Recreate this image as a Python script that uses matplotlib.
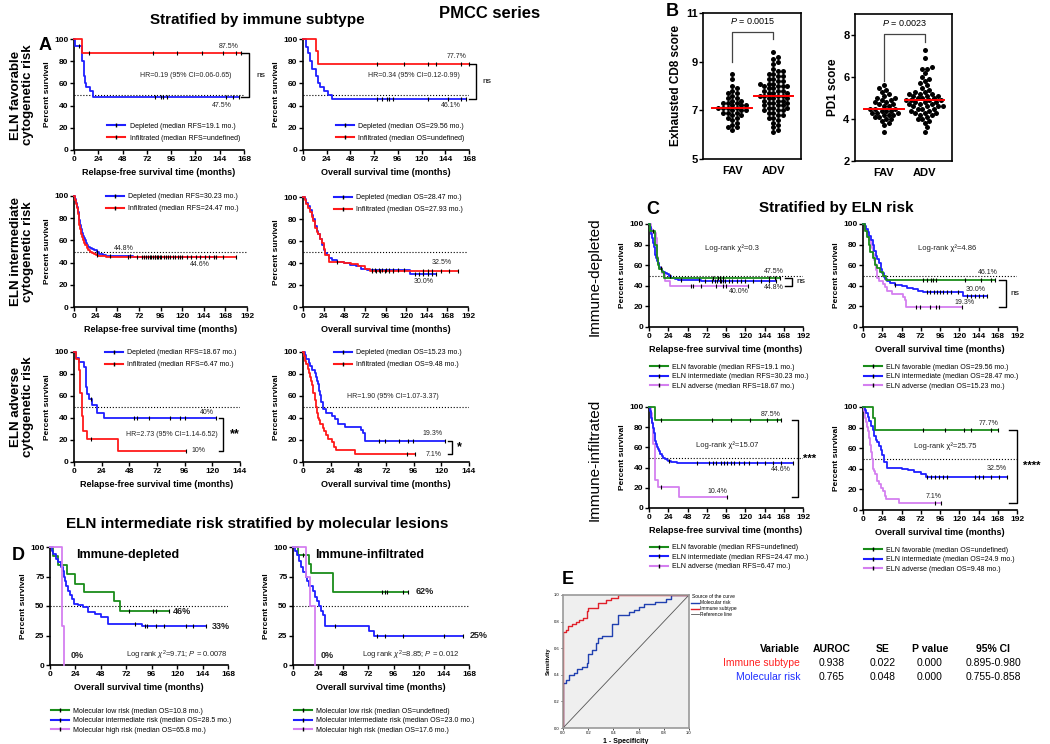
import numpy as np
import matplotlib
matplotlib.use('Agg')
import matplotlib.pyplot as plt
from matplotlib.lines import Line2D

plt.rcParams['font.family'] = ['Liberation Sans', 'DejaVu Sans']
plt.rcParams['mathtext.fontset'] = 'custom'
plt.rcParams['mathtext.rm'] = 'Liberation Sans'
plt.rcParams['mathtext.it'] = 'Liberation Sans:italic'

# ---- survival curves: event times, survival (%) after each event, censor times ----
# ELN favorable
fav_rfs_dep_t = [1, 8, 10, 11, 12, 16, 19]
fav_rfs_dep_s = [93.3, 80, 66.7, 60, 56.7, 53.3, 47.5]
fav_rfs_dep_c = [5, 80, 86, 88, 92, 150, 157, 163]
fav_rfs_inf_t = [8]
fav_rfs_inf_s = [87.5]
fav_rfs_inf_c = [15, 78, 102, 126, 147, 160, 165]
fav_os_dep_t = [3, 5, 7, 9, 13, 15, 17, 21, 25, 29]
fav_os_dep_s = [93, 87, 80, 73, 67, 60, 57, 53, 50, 46.1]
fav_os_dep_c = [75, 80, 85, 87, 91, 127, 147, 160, 165]
fav_os_inf_t = [13, 15]
fav_os_inf_s = [88.9, 77.7]
fav_os_inf_c = [75, 102, 126, 135, 160, 168]
# ELN intermediate
int_rfs_dep_t = [1, 2, 3, 4, 5, 6, 7, 8, 9, 10, 11, 12, 13, 14, 16, 18, 20, 22, 25, 28, 32, 36, 65]
int_rfs_dep_s = [97, 94, 90, 86, 82, 78, 74, 70, 67, 64, 62, 60, 58, 56, 54, 53, 52, 51, 50, 48, 47, 46, 44.8]
int_rfs_dep_c = [26, 40, 62, 70, 78, 82, 85, 88, 90, 92, 95, 100, 104, 110, 115, 120, 130, 140, 150, 158]
int_rfs_inf_t = [1, 2, 3, 4, 5, 6, 7, 8, 9, 10, 11, 12, 14, 16, 18, 20, 22, 24, 27, 30, 35]
int_rfs_inf_s = [96, 93, 89, 84, 79, 74, 70, 66, 63, 60, 58, 56, 53, 51, 50, 49, 48, 47, 46, 45.5, 44.6]
int_rfs_inf_c = [25, 60, 75, 80, 84, 90, 93, 97, 102, 106, 112, 118, 125, 135, 145, 155, 165, 180]
int_os_dep_t = [2, 4, 6, 8, 10, 12, 14, 16, 18, 20, 22, 24, 26, 28, 30, 34, 40, 48, 55, 62, 68, 75, 125]
int_os_dep_s = [98, 95, 92, 88, 84, 80, 74, 69, 66, 62, 56, 52, 49, 47, 45, 43, 41, 40, 38, 37, 35, 34, 30.0]
int_os_dep_c = [40, 80, 84, 88, 92, 96, 100, 105, 110, 118, 130, 135, 140, 145, 150, 155]
int_os_inf_t = [2, 4, 6, 8, 10, 12, 14, 16, 18, 20, 22, 24, 26, 30, 48, 56, 64, 72, 78]
int_os_inf_s = [97, 94, 90, 86, 82, 78, 72, 68, 66, 62, 58, 53, 47, 41, 40, 39, 37, 35, 32.5]
int_os_inf_c = [80, 85, 90, 95, 100, 105, 140, 145, 150, 160, 170, 180]
# ELN adverse
adv_rfs_dep_t = [2, 4, 9, 10, 11, 13, 16, 20, 26]
adv_rfs_dep_s = [95, 91, 86, 68, 62, 57, 52, 45, 40]
adv_rfs_dep_c = [15, 52, 55, 65, 83, 92, 96, 123]
adv_rfs_inf_t = [2, 4, 5, 7, 8, 11, 38]
adv_rfs_inf_s = [94, 84, 63, 42, 28, 21, 10.4]
adv_rfs_inf_c = [15, 97]
adv_os_dep_t = [2, 3, 5, 6, 8, 10, 11, 12, 13, 14, 15, 16, 17, 20, 25, 28, 30, 36, 50, 52, 54]
adv_os_dep_s = [97, 94, 90, 87, 84, 81, 77, 74, 71, 65, 61, 55, 48, 45, 42, 39, 35, 32, 29, 26, 19.3]
adv_os_dep_c = [66, 71, 83, 91, 95, 123]
adv_os_inf_t = [1, 2, 3, 4, 5, 6, 7, 8, 9, 10, 11, 12, 13, 14, 15, 17, 18, 20, 22, 25, 27, 29, 45]
adv_os_inf_s = [96, 92, 89, 85, 81, 77, 74, 70, 63, 56, 50, 45, 40, 38, 35, 31, 28, 25, 21, 18, 14, 11, 7.1]
adv_os_inf_c = [90, 97]
# molecular risk within ELN intermediate (panel D)
mol_dep_low_t = [3, 8, 16, 24, 32, 60, 66]
mol_dep_low_s = [92, 85, 77, 69, 62, 54, 46]
mol_dep_low_c = [75, 97, 100, 112]
mol_dep_int_t = [2, 3, 6, 8, 10, 12, 13, 14, 15, 17, 19, 21, 23, 26, 31, 36, 42, 48, 55, 87]
mol_dep_int_s = [97, 94, 90, 87, 83, 80, 75, 71, 67, 63, 59, 56, 52, 51, 49, 45, 43, 41, 35, 33]
mol_dep_int_c = [80, 90, 92, 100, 108, 128, 135, 147]
mol_dep_high_t = [11, 13]
mol_dep_high_s = [33, 0]
mol_dep_high_c = []
mol_inf_low_t = [5, 15, 17, 38]
mol_inf_low_s = [93, 86, 78, 62]
mol_inf_low_c = [10, 85, 88, 90, 105, 110]
mol_inf_int_t = [2, 4, 6, 8, 10, 12, 13, 15, 19, 21, 23, 25, 27, 29, 31, 73, 77]
mol_inf_int_s = [97, 93, 88, 83, 79, 75, 71, 67, 63, 58, 54, 50, 46, 42, 33, 29, 25]
mol_inf_int_c = [40, 80, 88, 105, 144, 162]
mol_inf_high_t = [12, 16, 21]
mol_inf_high_s = [75, 50, 0]
mol_inf_high_c = []

# ---- panel B scores ----
cd8_fav = [6.2, 6.3, 6.3, 6.4, 6.5, 6.6, 6.7, 6.7, 6.8, 6.8, 6.9, 6.9, 6.9, 7.0, 7.0, 7.0, 7.1, 7.1, 7.1,
           7.1, 7.2, 7.2, 7.2, 7.3, 7.3, 7.3, 7.4, 7.4, 7.5, 7.5, 7.6, 7.7, 7.7, 7.8, 7.9, 8.0, 8.3, 8.5]
cd8_adv = [6.1, 6.2, 6.3, 6.4, 6.5, 6.6, 6.7, 6.7, 6.8, 6.8, 6.9, 6.9, 7.0, 7.0, 7.0, 7.1, 7.1, 7.1, 7.2,
           7.2, 7.2, 7.3, 7.3, 7.3, 7.4, 7.4, 7.4, 7.5, 7.5, 7.5, 7.6, 7.6, 7.6, 7.6, 7.7, 7.7, 7.7, 7.8,
           7.8, 7.8, 7.9, 7.9, 8.0, 8.0, 8.0, 8.0, 8.1, 8.1, 8.1, 8.2, 8.2, 8.3, 8.3, 8.4, 8.4, 8.5, 8.5,
           8.6, 8.6, 8.7, 8.9, 9.0, 9.1, 9.2, 9.4]
pd1_fav = [3.4, 3.7, 3.8, 3.9, 4.0, 4.0, 4.1, 4.1, 4.2, 4.2, 4.2, 4.3, 4.3, 4.3, 4.4, 4.4, 4.4, 4.5,
           4.5, 4.5, 4.6, 4.6, 4.7, 4.7, 4.8, 4.8, 4.9, 4.9, 5.0, 5.0, 5.1, 5.2, 5.3, 5.4, 5.5, 5.6]
pd1_adv = [3.4, 3.6, 3.8, 3.9, 4.0, 4.0, 4.1, 4.2, 4.2, 4.3, 4.3, 4.3, 4.4, 4.4, 4.5, 4.5, 4.5, 4.6,
           4.6, 4.6, 4.6, 4.7, 4.7, 4.7, 4.8, 4.8, 4.8, 4.9, 4.9, 4.9, 4.9, 5.0, 5.0, 5.0, 5.1, 5.1,
           5.1, 5.2, 5.2, 5.2, 5.3, 5.3, 5.4, 5.5, 5.6, 5.7, 5.8, 5.9, 6.0, 6.2, 6.4, 6.4, 6.5, 6.9, 7.3]
b_groups = ['FAV', 'ADV']

# ---- panel E ROC (1-specificity, sensitivity) ----
roc_imm_fpr = [0, 0, 0.02, 0.04, 0.07, 0.10, 0.13, 0.16, 0.19, 0.20, 0.24, 0.28, 0.30, 0.34, 0.38, 0.40, 0.44, 1.0]
roc_imm_tpr = [0, 0.725, 0.74, 0.77, 0.78, 0.80, 0.81, 0.83, 0.88, 0.90, 0.90, 0.94, 0.94, 0.96, 0.98, 0.98, 1.0, 1.0]
roc_mol_fpr = [0, 0, 0.02, 0.05, 0.09, 0.11, 0.15, 0.19, 0.20, 0.23, 0.26, 0.28, 0.31, 0.39, 0.44, 0.52, 0.56,
               0.60, 0.64, 0.73, 0.82, 0.86, 1.0]
roc_mol_tpr = [0, 0.34, 0.36, 0.40, 0.41, 0.44, 0.46, 0.49, 0.56, 0.59, 0.64, 0.68, 0.69, 0.78, 0.85, 0.87, 0.89,
               0.91, 0.93, 0.95, 0.97, 1.0, 1.0]
tbl_header = ['Variable', 'AUROC', 'SE', 'P value', '95% CI']
tbl_rows = [['Immune subtype', '0.938', '0.022', '0.000', '0.895-0.980'],
            ['Molecular risk', '0.765', '0.048', '0.000', '0.755-0.858']]

BLUE, RED, GREEN, PURPLE = '#1f1fff', '#ff1a1a', '#1a8c1a', '#d47ff0'

W, H = 1050, 744
fig = plt.figure(figsize=(10.5, 7.44), dpi=100)


def add_ax(l, t, r, b):
    return fig.add_axes([l / W, 1 - b / H, (r - l) / W, (b - t) / H])


def ftext(x, y, s, **kw):
    fig.text(x / W, 1 - y / H, s, **kw)


def bold_ticks(ax, size):
    for lab in ax.get_xticklabels() + ax.get_yticklabels():
        lab.set_fontweight('bold')
        lab.set_fontsize(size)


def km_style(ax, xmax, xlabel, ystep=20):
    ax.set_xlim(0, xmax)
    ax.set_ylim(0, 100)
    ax.set_xticks(range(0, xmax + 1, 24))
    ax.set_yticks(range(0, 101, ystep))
    for sp in ['top', 'right']:
        ax.spines[sp].set_visible(False)
    for sp in ['left', 'bottom']:
        ax.spines[sp].set_linewidth(1.2)
    ax.tick_params(length=3, width=1, pad=1)
    bold_ticks(ax, 6)
    ax.set_xlabel(xlabel, fontsize=6.5, fontweight='bold', labelpad=4)
    ax.set_ylabel('Percent survival', fontsize=6, fontweight='bold', labelpad=2)
    ax.axhline(50, color='k', ls=':', lw=0.8, zorder=1)
    ax.patch.set_alpha(0)


def km(ax, t, s, c, color):
    end = max(t + c)
    x = [0] + t + [end]
    y = [100] + s + [s[-1]]
    ax.step(x, y, where='post', color=color, lw=1.3, clip_on=False, zorder=3)
    yc = []
    for ct in c:
        i = np.searchsorted(t, ct, side='right')
        yc.append(100 if i == 0 else s[i - 1])
    ax.plot(c, yc, ls='none', marker='|', color='k', ms=2.5, mew=0.8, clip_on=False, zorder=4)


def km_legend(ax, labels, colors, anchor, fs=5, sp=0.35):
    hs = [Line2D([0], [0], color=c, lw=1.5, marker='|', mec='k', ms=2.5) for c in colors]
    ax.legend(hs, labels, loc='upper left', bbox_to_anchor=anchor, frameon=False, fontsize=fs,
              handlelength=2.6, handletextpad=0.6, labelspacing=sp, borderaxespad=0)


def bracket(ax, x, y0, y1, w, label, lx, fs=6, fw='normal'):
    tr = ax.get_yaxis_transform()
    ax.plot([x - w, x, x, x - w], [y0, y0, y1, y1], color='k', lw=1, transform=tr, clip_on=False)
    ax.text(lx, (y0 + y1) / 2, label, transform=tr, fontsize=fs, fontweight=fw, va='center', ha='left')


def note(ax, x, y, s, fs=5, ha='center'):
    ax.text(x, y, s, fontsize=fs, ha=ha, va='center', color='#222222')


# ================= Panel A =================
ftext(257, 20, 'Stratified by immune subtype', fontsize=11, fontweight='bold', ha='center', va='center')
ftext(490, 14, 'PMCC series', fontsize=12, fontweight='bold', ha='center', va='center')
ftext(45, 45, 'A', fontsize=13, fontweight='bold', ha='center', va='center')
for yc, lab in [(95, 'ELN favorable\ncytogenetic risk'), (252, 'ELN intermediate\ncytogenetic risk'),
                (407, 'ELN adverse\ncytogenetic risk')]:
    ftext(22, yc, lab, fontsize=9.5, fontweight='bold', rotation=90, ha='center', va='center',
          linespacing=1.1)

rfs_lab = 'Relapse-free survival time (months)'
os_lab = 'Overall survival time (months)'

ax = add_ax(74, 39, 244, 150)
km_style(ax, 168, rfs_lab)
km(ax, fav_rfs_dep_t, fav_rfs_dep_s, fav_rfs_dep_c, BLUE)
km(ax, fav_rfs_inf_t, fav_rfs_inf_s, fav_rfs_inf_c, RED)
km_legend(ax, ['Depleted (median RFS=19.1 mo.)', 'Infiltrated (median RFS=undefined)'],
          [BLUE, RED], (0.18, 0.27), sp=0.7)
note(ax, 153, 93, '87.5%')
note(ax, 146, 40, '47.5%')
note(ax, 110, 67, 'HR=0.19 (95% CI=0.06-0.65)')
bracket(ax, 1.03, 87.5, 47.5, 0.05, 'ns', 1.07)

ax = add_ax(303, 39, 469, 150)
km_style(ax, 168, os_lab)
km(ax, fav_os_dep_t, fav_os_dep_s, fav_os_dep_c, BLUE)
km(ax, fav_os_inf_t, fav_os_inf_s, fav_os_inf_c, RED)
km_legend(ax, ['Depleted (median OS=29.56 mo.)', 'Infiltrated (median OS=undefined)'],
          [BLUE, RED], (0.18, 0.27), sp=0.7)
note(ax, 155, 84, '77.7%')
note(ax, 150, 40, '46.1%')
note(ax, 112, 67, 'HR=0.34 (95% CI=0.12-0.99)')
bracket(ax, 1.04, 77.7, 46.1, 0.04, 'ns', 1.08)

ax = add_ax(74, 196, 247, 307)
km_style(ax, 192, rfs_lab)
km(ax, int_rfs_dep_t, int_rfs_dep_s, int_rfs_dep_c, BLUE)
km(ax, int_rfs_inf_t, int_rfs_inf_s, int_rfs_inf_c, RED)
km_legend(ax, ['Depleted (median RFS=30.23 mo.)', 'Infiltrated (median RFS=24.47 mo.)'],
          [BLUE, RED], (0.17, 1.05), sp=0.7)
note(ax, 55, 53, '44.8%')
note(ax, 140, 38, '44.6%')

ax = add_ax(303, 197, 468, 307)
km_style(ax, 192, os_lab)
km(ax, int_os_dep_t, int_os_dep_s, int_os_dep_c, BLUE)
km(ax, int_os_inf_t, int_os_inf_s, int_os_inf_c, RED)
km_legend(ax, ['Depleted (median OS=28.47 mo.)', 'Infiltrated (median OS=27.93 mo.)'],
          [BLUE, RED], (0.17, 1.05), sp=0.7)
note(ax, 162, 40, '32.5%')
note(ax, 140, 23, '30.0%')

ax = add_ax(74, 352, 240, 462)
km_style(ax, 144, rfs_lab)
km(ax, adv_rfs_dep_t, adv_rfs_dep_s, adv_rfs_dep_c, BLUE)
km(ax, adv_rfs_inf_t, adv_rfs_inf_s, adv_rfs_inf_c, RED)
km_legend(ax, ['Depleted (median RFS=18.67 mo.)', 'Infiltrated (median RFS=6.47 mo.)'],
          [BLUE, RED], (0.17, 1.05), sp=0.7)
note(ax, 115, 45, '40%')
note(ax, 108, 10, '10%')
note(ax, 85, 25, 'HR=2.73 (95% CI=1.14-6.52)')
bracket(ax, 0.9, 40, 10, 0.025, '**', 0.94, fs=9, fw='bold')

ax = add_ax(303, 352, 469, 462)
km_style(ax, 144, os_lab)
km(ax, adv_os_dep_t, adv_os_dep_s, adv_os_dep_c, BLUE)
km(ax, adv_os_inf_t, adv_os_inf_s, adv_os_inf_c, RED)
km_legend(ax, ['Depleted (median OS=15.23 mo.)', 'Infiltrated (median OS=9.48 mo.)'],
          [BLUE, RED], (0.17, 1.05), sp=0.7)
note(ax, 112, 26, '19.3%')
note(ax, 113, 7, '7.1%')
note(ax, 78, 60, 'HR=1.90 (95% CI=1.07-3.37)')
bracket(ax, 0.9, 19.3, 7.1, 0.025, '*', 0.925, fs=9, fw='bold')


# ================= Panel B =================
def swarm(ax, vals, center, diam_px):
    bb = ax.get_position()
    wpx, hpx = bb.width * W, bb.height * H
    x0, x1 = ax.get_xlim()
    y0, y1 = ax.get_ylim()
    sx, sy = wpx / (x1 - x0), hpx / (y1 - y0)
    vals = np.asarray(vals, float)
    xs = np.zeros(len(vals))
    placed = []
    offs = [0] + [sg * k * 0.5 * diam_px for k in range(1, 60) for sg in (1, -1)]
    for i in np.argsort(vals):
        py = vals[i] * sy
        for o in offs:
            if all((o - qx) ** 2 + (py - qy) ** 2 >= diam_px ** 2 for qx, qy in placed):
                break
        placed.append((o, py))
        xs[i] = center + o / sx
    ax.plot(xs, vals, 'o', color='k', ms=3.6, mew=0, zorder=3)
    m = np.median(vals)
    ax.plot([center - 0.48, center + 0.48], [m, m], color='red', lw=1.4, zorder=4)


def b_panel(box, fav, adv, ylim, yticks, ylabel, brk, ptxt, pval):
    ax = add_ax(*box)
    ax.set_xlim(0.29, 2.67)
    ax.set_ylim(*ylim)
    ax.set_yticks(yticks)
    ax.set_xticks([1, 2])
    ax.set_xticklabels(b_groups)
    for sp in ax.spines.values():
        sp.set_linewidth(1.2)
    ax.tick_params(axis='y', length=3, width=1, pad=1)
    ax.tick_params(axis='x', length=0, pad=5)
    bold_ticks(ax, 8)
    ax.set_ylabel(ylabel, fontsize=8.5, fontweight='bold', labelpad=3)
    swarm(ax, fav, 1, 4.6)
    swarm(ax, adv, 2, 4.6)
    top, lb, rb = brk
    ax.plot([1, 1, 2, 2], [lb, top, top, rb], color='#444444', lw=0.9)
    ax.text(1.5, ptxt, r'$P$ = ' + pval, fontsize=6.5, ha='center', va='center')


ftext(672, 12, 'B', fontsize=13, fontweight='bold', ha='center', va='center')
b_panel((703, 13, 801, 159), cd8_fav, cd8_adv, (5, 11), [5, 7, 9, 11], 'Exhausted CD8 score',
        (10.22, 9.0, 9.95), 10.66, '0.0015')
b_panel((855, 14, 952, 161), pd1_fav, pd1_adv, (2, 9), [2, 4, 6, 8], 'PD1 score',
        (8.03, 5.8, 7.69), 8.56, '0.0023')

# ================= Panel C =================
ftext(836, 208, 'Stratified by ELN risk', fontsize=11, fontweight='bold', ha='center', va='center')
ftext(653, 210, 'C', fontsize=13, fontweight='bold', ha='center', va='center')
ftext(595, 277, 'Immune-depleted', fontsize=11, rotation=90, ha='center', va='center')
ftext(595, 460, 'Immune-infiltrated', fontsize=11, rotation=90, ha='center', va='center')

c_cols = [GREEN, BLUE, PURPLE]

ax = add_ax(649, 224, 803, 327)
km_style(ax, 192, rfs_lab)
km(ax, adv_rfs_dep_t, adv_rfs_dep_s, adv_rfs_dep_c, PURPLE)
km(ax, int_rfs_dep_t, int_rfs_dep_s, int_rfs_dep_c, BLUE)
km(ax, fav_rfs_dep_t, fav_rfs_dep_s, fav_rfs_dep_c, GREEN)
km_legend(ax, ['ELN favorable (median RFS=19.1 mo.)', 'ELN intermediate (median RFS=30.23 mo.)',
               'ELN adverse (median RFS=18.67 mo.)'], c_cols, (-0.01, -0.33))
note(ax, 103, 77, 'Log-rank χ²=0.3', fs=5.5)
note(ax, 155, 54, '47.5%')
note(ax, 155, 38, '44.8%')
note(ax, 112, 34, '40.0%')
bracket(ax, 0.93, 47.5, 40, 0.05, 'ns', 0.96)

ax = add_ax(863, 224, 1017, 327)
km_style(ax, 192, os_lab)
km(ax, adv_os_dep_t, adv_os_dep_s, adv_os_dep_c, PURPLE)
km(ax, int_os_dep_t, int_os_dep_s, int_os_dep_c, BLUE)
km(ax, fav_os_dep_t, fav_os_dep_s, fav_os_dep_c, GREEN)
km_legend(ax, ['ELN favorable (median OS=29.56 mo.)', 'ELN intermediate (median OS=28.47 mo.)',
               'ELN adverse (median OS=15.23 mo.)'], c_cols, (-0.01, -0.33))
note(ax, 105, 77, 'Log-rank χ²=4.86', fs=5.5)
note(ax, 155, 53, '46.1%')
note(ax, 140, 36, '30.0%')
note(ax, 127, 24, '19.3%')
bracket(ax, 0.93, 46, 19.3, 0.05, 'ns', 0.96)

ax = add_ax(649, 407, 803, 508)
km_style(ax, 192, rfs_lab)
km(ax, adv_rfs_inf_t, adv_rfs_inf_s, adv_rfs_inf_c, PURPLE)
km(ax, int_rfs_inf_t, int_rfs_inf_s, int_rfs_inf_c, BLUE)
km(ax, fav_rfs_inf_t, fav_rfs_inf_s, fav_rfs_inf_c, GREEN)
km_legend(ax, ['ELN favorable (median RFS=undefined)', 'ELN intermediate (median RFS=24.47 mo.)',
               'ELN adverse (median RFS=6.47 mo.)'], c_cols, (-0.01, -0.33))
note(ax, 152, 93, '87.5%')
note(ax, 98, 62, 'Log-rank χ²=15.07', fs=5.5)
note(ax, 164, 38, '44.6%')
note(ax, 85, 16, '10.4%')
bracket(ax, 0.97, 87.5, 10.4, 0.04, '***', 1.0, fs=8, fw='bold')

ax = add_ax(863, 407, 1017, 510)
km_style(ax, 192, os_lab)
km(ax, adv_os_inf_t, adv_os_inf_s, adv_os_inf_c, PURPLE)
km(ax, int_os_inf_t, int_os_inf_s, int_os_inf_c, BLUE)
km(ax, fav_os_inf_t, fav_os_inf_s, fav_os_inf_c, GREEN)
km_legend(ax, ['ELN favorable (median OS=undefined)', 'ELN intermediate (median OS=24.9 mo.)',
               'ELN adverse (median OS=9.48 mo.)'], c_cols, (-0.01, -0.33))
note(ax, 156, 84, '77.7%')
note(ax, 103, 62, 'Log-rank χ²=25.75', fs=5.5)
note(ax, 167, 40, '32.5%')
note(ax, 88, 13, '7.1%')
bracket(ax, 1.0, 77.7, 7.1, 0.05, '****', 1.04, fs=8, fw='bold')

# ================= Panel D =================
ftext(257, 524, 'ELN intermediate risk stratified by molecular lesions', fontsize=11, fontweight='bold',
      ha='center', va='center')
ftext(18, 556, 'D', fontsize=13, fontweight='bold', ha='center', va='center')

ax = add_ax(50, 547, 228, 665)
km_style(ax, 168, os_lab, ystep=25)
km(ax, mol_dep_low_t, mol_dep_low_s, mol_dep_low_c, GREEN)
km(ax, mol_dep_int_t, mol_dep_int_s, mol_dep_int_c, BLUE)
km(ax, mol_dep_high_t, mol_dep_high_s, mol_dep_high_c, PURPLE)
km_legend(ax, ['Molecular low risk (median OS=10.8 mo.)', 'Molecular intermediate risk (median OS=28.5 mo.)',
               'Molecular high risk (median OS=65.8 mo.)'], c_cols, (-0.01, -0.34))
ax.text(25, 93, 'Immune-depleted', fontsize=9, fontweight='bold', va='center')
note(ax, 116, 45, '46%', fs=6.5, ha='left')
note(ax, 153, 33, '33%', fs=6.5, ha='left')
note(ax, 19, 8, '0%', fs=6.5, ha='left')
note(ax, 168, 8, r'Log rank $\chi^2$=9.71; $P$ = 0.0078', fs=5.5, ha='right')
for t in ax.texts[1:4]:
    t.set_fontweight('bold')

ax = add_ax(293, 547, 469, 665)
km_style(ax, 168, os_lab, ystep=25)
km(ax, mol_inf_low_t, mol_inf_low_s, mol_inf_low_c, GREEN)
km(ax, mol_inf_int_t, mol_inf_int_s, mol_inf_int_c, BLUE)
km(ax, mol_inf_high_t, mol_inf_high_s, mol_inf_high_c, PURPLE)
km_legend(ax, ['Molecular low risk (median OS=undefined)', 'Molecular intermediate risk (median OS=23.0 mo.)',
               'Molecular high risk (median OS=17.6 mo.)'], c_cols, (-0.01, -0.34))
ax.text(21, 93, 'Immune-infiltrated', fontsize=9, fontweight='bold', va='center')
note(ax, 117, 62, '62%', fs=6.5, ha='left')
note(ax, 169, 25, '25%', fs=6.5, ha='left')
note(ax, 26, 8, '0%', fs=6.5, ha='left')
note(ax, 66, 8, r'Log rank $\chi^2$=8.85; $P$ = 0.012', fs=5.5, ha='left')
for t in ax.texts[1:4]:
    t.set_fontweight('bold')

# ================= Panel E =================
ftext(568, 580, 'E', fontsize=13, fontweight='bold', ha='center', va='center')
ax = add_ax(563, 595, 689, 728)
ax.set_facecolor('#efefef')
ax.set_xlim(0, 1)
ax.set_ylim(0, 1)
ax.plot(roc_mol_fpr, roc_mol_tpr, drawstyle='steps-post', color='#2040b0', lw=1, label='Molecular risk')
ax.plot(roc_imm_fpr, roc_imm_tpr, drawstyle='steps-post', color='#e0202a', lw=1, label='Immune subtype')
ax.plot([0, 1], [0, 1], color='#555555', lw=0.6, label='Reference line')
ax.set_xticks(np.arange(0, 1.01, 0.2))
ax.set_yticks(np.arange(0, 1.01, 0.2))
ax.tick_params(labelsize=3, length=1.5, width=0.5, pad=1)
for sp in ax.spines.values():
    sp.set_color('#999999')
    sp.set_linewidth(1.2)
ax.set_xlabel('1 - Specificity', fontsize=5, fontweight='bold', labelpad=2)
ax.set_ylabel('Sensitivity', fontsize=4, fontweight='bold', labelpad=2)
ax.legend(loc='upper left', bbox_to_anchor=(1.0, 1.02), frameon=False, fontsize=3.5,
          title='Source of the curve', title_fontsize=3.5, handlelength=1.6, handletextpad=0.3,
          labelspacing=0.2, borderaxespad=0)

col_x = [800, 832, 883, 930, 993]
for j, h in enumerate(tbl_header):
    ftext(col_x[j], 649, h, fontsize=7.5, fontweight='bold', ha='right' if j == 0 else 'center', va='center')
for i, row in enumerate(tbl_rows):
    for j, v in enumerate(row):
        ftext(col_x[j], 663 + 14 * i, v, fontsize=7.5, ha='right' if j == 0 else 'center', va='center',
              color=(['#ff2020', '#1f2fff'][i] if j == 0 else 'k'))

fig.savefig('out.png', dpi=100)
